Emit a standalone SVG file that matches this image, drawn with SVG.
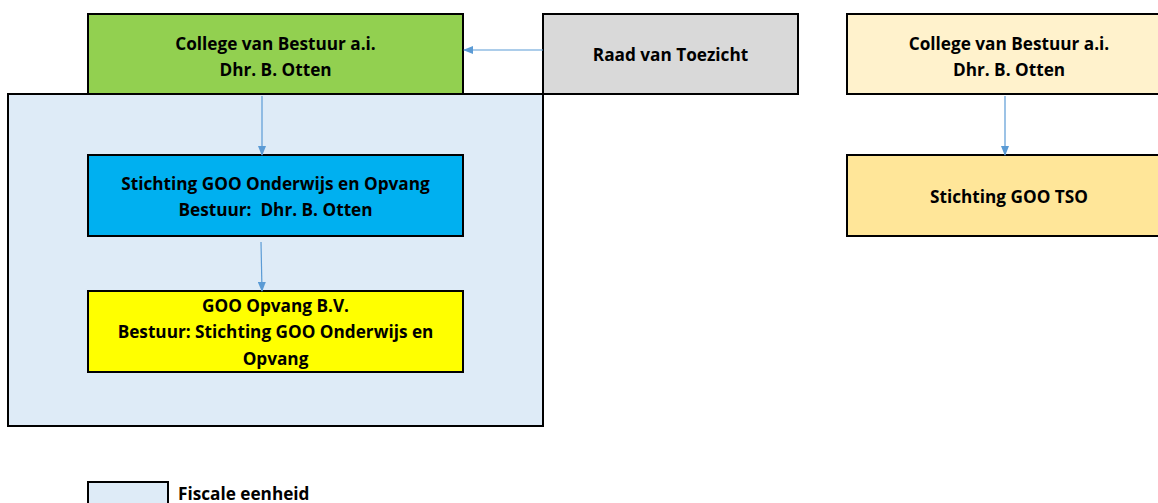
<svg xmlns="http://www.w3.org/2000/svg" width="1158" height="503" viewBox="0 0 1158 503">
<style>
.box{stroke:#000;stroke-width:2}
.t{font-family:"Open Sans","Liberation Sans",Arial,sans-serif;font-weight:bold;font-size:17.2px;fill:#000;text-anchor:middle}
.conn{stroke:#5b9bd5;stroke-width:1.2;fill:none;marker-end:url(#ah)}
</style>
<defs>
<marker id="ah" markerWidth="10" markerHeight="8" refX="9" refY="4" orient="auto" markerUnits="userSpaceOnUse">
<path d="M0,0 L10,4 L0,8 Z" fill="#5b9bd5"/>
</marker>
</defs>
<rect width="1158" height="503" fill="#fff"/>
<g id="fiscale-eenheid">
<rect class="box" x="8" y="94" width="535" height="332" fill="#deebf7"/>
</g>
<g id="cvb-left">
<rect class="box" x="88" y="14" width="375" height="80" fill="#92d050"/>
<text class="t" x="275.5" y="50">College van Bestuur a.i.</text>
<text class="t" x="275.5" y="76">Dhr. B. Otten</text>
</g>
<g id="rvt">
<rect class="box" x="543" y="14" width="255" height="80" fill="#d9d9d9"/>
<text class="t" x="670.5" y="61">Raad van Toezicht</text>
</g>
<g id="cvb-right">
<rect class="box" x="847" y="14" width="320" height="80" fill="#fff2cc"/>
<text class="t" x="1009" y="50">College van Bestuur a.i.</text>
<text class="t" x="1009" y="76">Dhr. B. Otten</text>
</g>
<g id="stichting-goo">
<rect class="box" x="88" y="155" width="375" height="81" fill="#00b0f0"/>
<text class="t" x="275.5" y="190">Stichting GOO Onderwijs en Opvang</text>
<text class="t" x="275.5" y="216" xml:space="preserve">Bestuur:  Dhr. B. Otten</text>
</g>
<g id="goo-opvang">
<rect class="box" x="88" y="291" width="375" height="81" fill="#ffff00"/>
<text class="t" x="275.5" y="312">GOO Opvang B.V.</text>
<text class="t" x="275.5" y="338">Bestuur: Stichting GOO Onderwijs en</text>
<text class="t" x="275.5" y="365">Opvang</text>
</g>
<g id="goo-tso">
<rect class="box" x="847" y="155" width="320" height="81" fill="#ffe699"/>
<text class="t" x="1009" y="203">Stichting GOO TSO</text>
</g>
<g id="legend">
<rect class="box" x="88" y="482" width="80" height="30" fill="#deebf7"/>
<text class="t" x="178" y="500" style="text-anchor:start">Fiscale eenheid</text>
</g>
<g id="connectors">
<line class="conn" x1="543" y1="50" x2="464" y2="50"/>
<line class="conn" x1="262" y1="96" x2="262" y2="155"/>
<line class="conn" x1="261" y1="242" x2="262" y2="291"/>
<line class="conn" x1="1005" y1="96" x2="1005" y2="155"/>
</g>
</svg>
